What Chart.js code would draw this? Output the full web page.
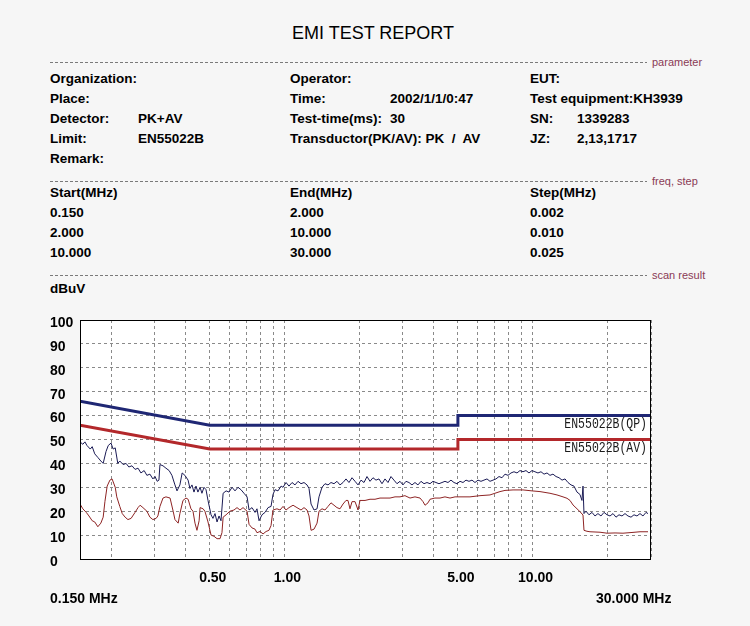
<!DOCTYPE html>
<html>
<head>
<meta charset="utf-8">
<title>EMI TEST REPORT</title>
<script src="https://cdn.jsdelivr.net/npm/chart.js@4.4.1/dist/chart.umd.min.js"></script>
<style>
  html, body { margin: 0; padding: 0; }
  body { width: 750px; height: 626px; background: #f6f6f6; position: relative; overflow: hidden;
         font-family: "Liberation Sans", Arial, sans-serif; color: #000; }
  .t { position: absolute; font-weight: bold; font-size: 13.5px; line-height: 16px; white-space: pre; }
  .title { position: absolute; left: 0; width: 746px; top: 23px; text-align: center; font-size: 18px; line-height: 20px; }
  .sep { position: absolute; left: 50px; width: 597px; height: 1px;
         background: repeating-linear-gradient(to right, #7a7a7a 0 3px, transparent 3px 5px); }
  .tag { position: absolute; left: 652px; font-size: 11px; line-height: 12px; color: #8a3a55; white-space: pre; }
  #chartBox { position: absolute; left: 0; top: 300px; width: 750px; height: 326px; }
</style>
</head>
<body>

<div class="title">EMI TEST REPORT</div>

<div class="sep" style="top:62px"></div><div class="tag" style="top:56px">parameter</div>
<div class="t" style="left:50px;top:71px">Organization:</div>
<div class="t" style="left:50px;top:91px">Place:</div>
<div class="t" style="left:50px;top:111px">Detector:</div>
<div class="t" style="left:138px;top:111px">PK+AV</div>
<div class="t" style="left:50px;top:131px">Limit:</div>
<div class="t" style="left:138px;top:131px">EN55022B</div>
<div class="t" style="left:50px;top:151px">Remark:</div>

<div class="t" style="left:290px;top:71px">Operator:</div>
<div class="t" style="left:290px;top:91px">Time:</div>
<div class="t" style="left:390px;top:91px">2002/1/1/0:47</div>
<div class="t" style="left:290px;top:111px">Test-time(ms):</div>
<div class="t" style="left:390px;top:111px">30</div>
<div class="t" style="left:290px;top:131px">Transductor(PK/AV): PK  /  AV</div>

<div class="t" style="left:530px;top:71px">EUT:</div>
<div class="t" style="left:530px;top:91px">Test equipment:KH3939</div>
<div class="t" style="left:530px;top:111px">SN:</div>
<div class="t" style="left:577px;top:111px">1339283</div>
<div class="t" style="left:530px;top:131px">JZ:</div>
<div class="t" style="left:577px;top:131px">2,13,1717</div>

<div class="sep" style="top:181px"></div><div class="tag" style="top:175px">freq, step</div>
<div class="t" style="left:50px;top:185px">Start(MHz)</div>
<div class="t" style="left:290px;top:185px">End(MHz)</div>
<div class="t" style="left:530px;top:185px">Step(MHz)</div>
<div class="t" style="left:50px;top:205px">0.150</div>
<div class="t" style="left:290px;top:205px">2.000</div>
<div class="t" style="left:530px;top:205px">0.002</div>
<div class="t" style="left:50px;top:225px">2.000</div>
<div class="t" style="left:290px;top:225px">10.000</div>
<div class="t" style="left:530px;top:225px">0.010</div>
<div class="t" style="left:50px;top:245px">10.000</div>
<div class="t" style="left:290px;top:245px">30.000</div>
<div class="t" style="left:530px;top:245px">0.025</div>

<div class="sep" style="top:275px"></div><div class="tag" style="top:269px">scan result</div>
<div class="t" style="left:50px;top:281px">dBuV</div>

<div id="chartBox"><canvas id="emiChart"></canvas></div>

<div class="t" style="left:50px;top:590px;font-size:14px">0.150 MHz</div>
<div class="t" style="left:596px;top:590px;font-size:14px">30.000 MHz</div>

<script>
// ---- scan data (MHz / dBuV) ----
const pkFreq = [0.150, 0.154, 0.157, 0.160, 0.165, 0.168, 0.172, 0.177, 0.182, 0.186,
  0.191, 0.195, 0.200, 0.204, 0.208, 0.213, 0.217, 0.224, 0.230, 0.236,
  0.243, 0.250, 0.257, 0.264, 0.272, 0.279, 0.287, 0.295, 0.301, 0.307,
  0.312, 0.315, 0.324, 0.333, 0.343, 0.352, 0.362, 0.369, 0.379, 0.387,
  0.397, 0.409, 0.416, 0.424, 0.432, 0.440, 0.448, 0.457, 0.465, 0.474,
  0.483, 0.492, 0.506, 0.515, 0.525, 0.535, 0.545, 0.555, 0.566, 0.582,
  0.598, 0.615, 0.632, 0.650, 0.668, 0.687, 0.707, 0.720, 0.740, 0.761,
  0.775, 0.790, 0.812, 0.835, 0.859, 0.883, 0.899, 0.916, 0.942, 0.969,
  0.987, 1.015, 1.043, 1.073, 1.103, 1.134, 1.166, 1.199, 1.233, 1.256,
  1.280, 1.316, 1.353, 1.378, 1.417, 1.457, 1.498, 1.540, 1.584, 1.628,
  1.674, 1.722, 1.770, 1.820, 1.872, 1.925, 1.979, 2.035, 2.092, 2.151,
  2.212, 2.274, 2.338, 2.404, 2.472, 2.542, 2.614, 2.687, 2.763, 2.841,
  2.922, 3.004, 3.089, 3.176, 3.265, 3.358, 3.452, 3.550, 3.650, 3.753,
  3.860, 3.967, 4.080, 4.195, 4.314, 4.435, 4.560, 4.689, 4.822, 4.958,
  5.098, 5.242, 5.390, 5.542, 5.698, 5.859, 6.024, 6.195, 6.369, 6.549,
  6.734, 6.924, 7.120, 7.321, 7.527, 7.740, 7.959, 8.183, 8.414, 8.652,
  8.894, 9.147, 9.405, 9.670, 9.943, 10.22, 10.51, 10.81, 11.12, 11.43,
  11.75, 12.08, 12.43, 12.78, 13.14, 13.51, 13.89, 14.28, 14.68, 15.10,
  15.52, 15.81, 15.96, 16.11, 16.41, 16.87, 17.35, 17.84, 18.34, 18.86,
  19.40, 19.95, 20.51, 21.09, 21.68, 22.29, 22.92, 23.57, 24.23, 24.92,
  25.62, 26.34, 27.09, 27.85, 28.64, 29.18];
const pkLevel = [49, 48, 49, 47.5, 46, 47, 44, 42.5, 41, 40,
  45, 47.5, 48.5, 46, 46.5, 40, 41, 39.5, 40, 38.5,
  39, 37.5, 38, 36, 37, 35, 35.5, 33.5, 34.5, 32.5,
  33, 39.5, 39, 38, 37, 35, 31, 28.5, 31, 36,
  35, 33, 29.5, 31, 28, 30.5, 28, 30, 27.5, 30,
  29, 24.5, 18.5, 17, 19, 15.5, 18, 16, 27.5, 28.5,
  28, 30, 28.5, 30, 29, 27.5, 26, 20.5, 21.5, 19.5,
  21, 16, 18.5, 19.5, 21.5, 22, 27, 29, 28.5, 30.5,
  30, 32, 30.5, 32, 31, 32.5, 31.5, 32, 31, 29.5,
  23, 20.5, 21, 26, 30, 31.5, 31, 32, 31.5, 32.5,
  31, 32, 33.5, 32, 34, 32.5, 31, 33, 32, 34.5,
  32.5, 34, 33, 33.5, 31.5, 33.5, 32, 34.5, 33, 31.5,
  32.5, 31, 32.5, 32, 31, 32, 31, 32.5, 31.5, 32,
  31.5, 32.5, 32, 31.5, 32, 32.5, 32, 33, 32, 31.5,
  32.5, 32, 33, 32.5, 33, 32, 33, 32.5, 33, 33.5,
  32.5, 33, 33.5, 34.5, 34, 35.5, 35, 36, 36.5, 36,
  37, 36.5, 37, 36, 37, 36.5, 36, 36.5, 35.5, 36,
  35, 35.5, 34.5, 34, 33, 33.5, 32, 31, 30.5, 28,
  27, 24.5, 30.5, 19, 20, 18.5, 19.5, 18, 19, 18,
  19.5, 18.5, 18, 19, 17.5, 18.5, 18, 19, 18, 17.5,
  18.5, 18, 19, 18, 19.5, 19];

const avFreq = [0.150, 0.154, 0.159, 0.163, 0.168, 0.172, 0.177, 0.182, 0.186, 0.189,
  0.193, 0.198, 0.202, 0.208, 0.211, 0.217, 0.222, 0.228, 0.234, 0.241,
  0.250, 0.257, 0.262, 0.269, 0.279, 0.287, 0.295, 0.304, 0.309, 0.315,
  0.324, 0.333, 0.346, 0.356, 0.362, 0.373, 0.379, 0.390, 0.401, 0.409,
  0.420, 0.428, 0.436, 0.444, 0.453, 0.457, 0.470, 0.478, 0.492, 0.506,
  0.520, 0.535, 0.550, 0.560, 0.566, 0.582, 0.603, 0.626, 0.644, 0.662,
  0.681, 0.707, 0.720, 0.740, 0.761, 0.775, 0.797, 0.820, 0.843, 0.866,
  0.883, 0.899, 0.933, 0.960, 0.987, 1.015, 1.043, 1.083, 1.123, 1.166,
  1.199, 1.233, 1.256, 1.280, 1.316, 1.353, 1.378, 1.417, 1.457, 1.498,
  1.540, 1.584, 1.628, 1.674, 1.722, 1.770, 1.803, 1.837, 1.872, 1.925,
  1.979, 2.016, 2.112, 2.212, 2.317, 2.427, 2.542, 2.663, 2.790, 2.922,
  3.059, 3.206, 3.358, 3.518, 3.617, 3.686, 3.789, 3.860, 4.040, 4.235,
  4.435, 4.646, 4.870, 5.098, 5.593, 6.137, 6.734, 7.050, 7.389, 7.740,
  8.340, 9.147, 9.943, 10.71, 11.75, 12.54, 13.26, 13.76, 14.15, 14.55,
  15.10, 15.52, 15.96, 16.11, 16.56, 17.03, 18.69, 19.95, 21.49, 23.13,
  25.15, 27.09, 29.18];
const avLevel = [23, 21, 19.5, 18, 16, 15.5, 13.5, 15, 17.5, 24,
  30.5, 33, 33.5, 30, 26, 22, 19, 17.5, 16.5, 17,
  19.5, 21.5, 22.5, 21.5, 20, 17.5, 16.5, 17, 18, 22,
  25.5, 26, 25.5, 20, 16.5, 15, 19, 24.5, 25.5, 25,
  21, 20, 15, 12, 16, 21.5, 21, 20, 15.5, 10,
  9.5, 8.5, 8.5, 11, 17.5, 18.5, 20, 20.5, 21.5, 20.5,
  21.5, 20, 14.5, 13, 12.5, 11, 11.5, 10.5, 11.5, 12,
  14, 20.5, 21, 20.5, 22, 20.5, 21.5, 22.5, 21.5, 20.5,
  21.5, 20.5, 18, 12, 12.5, 15, 20, 21, 20.5, 22,
  23.5, 22.5, 21.5, 21, 23, 24.5, 24.5, 21, 24, 24,
  20.5, 24.5, 24.5, 25, 25, 25.5, 25.5, 25.5, 26, 26,
  26.5, 25.5, 26, 25.5, 24, 22.5, 23.5, 25, 25.5, 25.5,
  26, 25.5, 26, 26, 26, 26.5, 26.8, 27.5, 28.2, 28.7,
  28.9, 28.9, 28.5, 28.2, 27.5, 26.8, 26, 25.4, 24.5, 22.6,
  21, 19.8, 18.4, 12, 11.6, 11.4, 11.2, 10.8, 10.9, 10.8,
  11.1, 11.4, 11.4];

// ---- EN55022 class B limits ----
const qpLimitFreq = [0.15, 0.5, 5, 5, 30];
const qpLimitLevel = [66, 56, 56, 60, 60];
const avLimitFreq = [0.15, 0.5, 5, 5, 30];
const avLimitLevel = [56, 46, 46, 50, 50];
const limitNames = ['EN55022B(QP)', 'EN55022B(AV)'];

// ---- axes ----
const yTickValues = [0, 10, 20, 30, 40, 50, 60, 70, 80, 90, 100];
const xGridFreqs = [0.15, 0.2, 0.3, 0.4, 0.5, 0.6, 0.7, 0.8, 0.9, 1, 2, 3, 4, 5, 6, 7, 8, 9, 10, 20, 30];
const xLabelFreqs = [0.5, 1, 5, 10];
const xLabelText = ['0.50', '1.00', '5.00', '10.00'];

const toPoints = (xs, ys) => xs.map((x, i) => ({ x: x, y: ys[i] }));
const tickFont = { family: '"Liberation Sans", Arial, sans-serif', size: 14, weight: 'bold' };

// white plot area + black frame round it
const plotFrame = {
  id: 'plotFrame',
  beforeDraw(chart) {
    const a = chart.chartArea, ctx = chart.ctx;
    ctx.save();
    ctx.fillStyle = '#ffffff';
    ctx.fillRect(a.left, a.top, a.right - a.left, a.bottom - a.top);
    ctx.restore();
  },
  afterDraw(chart) {
    const a = chart.chartArea, ctx = chart.ctx;
    ctx.save();
    ctx.strokeStyle = '#000';
    ctx.lineWidth = 1;
    ctx.strokeRect(Math.round(a.left) + 0.5, Math.round(a.top) + 0.5,
      Math.round(a.right - a.left) - 1, Math.round(a.bottom - a.top));
    ctx.restore();
  }
};

// limit names under the right end of each limit line
const limitTags = {
  id: 'limitTags',
  afterDatasetsDraw(chart) {
    const ctx = chart.ctx, a = chart.chartArea, y = chart.scales.y;
    const ends = [qpLimitLevel[qpLimitLevel.length - 1], avLimitLevel[avLimitLevel.length - 1]];
    ctx.save();
    ctx.font = '14px "Liberation Mono", "DejaVu Sans Mono", monospace';
    ctx.fillStyle = '#1a1a1a';
    ctx.textAlign = 'right';
    ctx.textBaseline = 'top';
    limitNames.forEach((name, i) => {
      ctx.save();
      ctx.translate(a.right - 4, y.getPixelForValue(ends[i]) + 2);
      ctx.scale(0.82, 1);
      ctx.fillText(name, 0, 0);
      ctx.restore();
    });
    ctx.restore();
  }
};

new Chart(document.getElementById('emiChart'), {
  type: 'line',
  data: {
    datasets: [
      { label: 'PK', data: toPoints(pkFreq, pkLevel), borderColor: '#1b1b55', borderWidth: 1 },
      { label: 'AV', data: toPoints(avFreq, avLevel), borderColor: '#8e2424', borderWidth: 1 },
      { label: limitNames[0], data: toPoints(qpLimitFreq, qpLimitLevel), borderColor: '#1f2774', borderWidth: 3 },
      { label: limitNames[1], data: toPoints(avLimitFreq, avLimitLevel), borderColor: '#b3282b', borderWidth: 3 }
    ]
  },
  options: {
    responsive: true,
    maintainAspectRatio: false,
    animation: false,
    elements: { point: { radius: 0 }, line: { tension: 0 } },
    plugins: { legend: { display: false }, tooltip: { enabled: false } },
    layout: { padding: { left: 50, right: 99, top: 20, bottom: 27 } },
    scales: {
      x: {
        type: 'logarithmic',
        min: 0.15,
        max: 30,
        afterBuildTicks: s => { s.ticks = xGridFreqs.map(v => ({ value: v })); },
        afterFit: s => { s.height = 40; },
        grid: { color: '#8a8a8a', lineWidth: 1, drawTicks: false },
        border: { display: false, dash: [3, 3] },
        ticks: {
          autoSkip: false, maxRotation: 0, minRotation: 0,
          padding: 11, labelOffset: 3, color: '#000', font: tickFont,
          callback: v => {
            const i = xLabelFreqs.indexOf(v);
            return i >= 0 ? xLabelText[i] : '';
          }
        }
      },
      y: {
        min: 0,
        max: 100,
        afterBuildTicks: s => { s.ticks = yTickValues.map(v => ({ value: v })); },
        afterFit: s => { s.width = 30; },
        grid: { color: '#8a8a8a', lineWidth: 1, drawTicks: false },
        border: { display: false, dash: [3, 3] },
        ticks: {
          crossAlign: 'far', padding: 0, labelOffset: 3, color: '#000', font: tickFont,
          callback: v => String(v)
        }
      }
    }
  },
  plugins: [plotFrame, limitTags]
});
</script>
</body>
</html>
